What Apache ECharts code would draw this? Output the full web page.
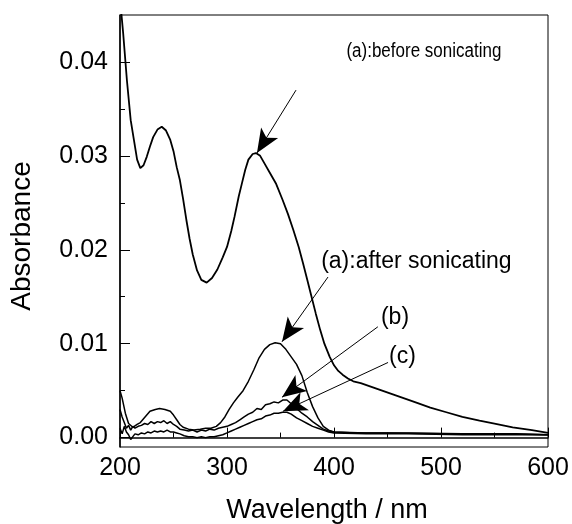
<!DOCTYPE html>
<html>
<head>
<meta charset="utf-8">
<script src="https://cdn.jsdelivr.net/npm/echarts@6/dist/echarts.min.js"></script>
<style>
  html, body {margin: 0; padding: 0; background: #fff;}
  #main {width: 572px; height: 524px;}
</style>
</head>
<body>
<div id="main"></div>
<script>
  // (a) before sonicating
  var beforeNm = [200, 201, 203, 206.5, 210, 213, 216, 219, 222, 225, 228, 231, 235, 239, 243, 247, 250, 253, 256, 259,
    262, 265, 268, 272, 276, 281, 286, 291, 296, 300, 304, 307, 311, 314, 317, 320, 324, 327, 331, 335,
    340, 346, 352, 357, 362, 367, 371, 375, 379, 383, 387, 391, 396, 400, 404, 408, 413, 418, 425, 435,
    445, 455, 465, 475, 490, 505, 520, 536, 550, 567, 585, 600];
  var beforeAbs = [0.0470, 0.0455, 0.0430, 0.0380, 0.0338, 0.0317, 0.0296, 0.0287, 0.0290, 0.0299,
    0.0310, 0.0320, 0.0328, 0.0331, 0.0327, 0.0317, 0.0305, 0.0288, 0.0274, 0.0254,
    0.0232, 0.0212, 0.0195, 0.0178, 0.0168, 0.0165, 0.0170, 0.0179, 0.0192, 0.0203,
    0.0220, 0.0235, 0.0257, 0.0271, 0.0285, 0.0296, 0.0302, 0.0303, 0.0300, 0.0292,
    0.0282, 0.0270, 0.0253, 0.0238, 0.0221, 0.0203, 0.0186, 0.0168, 0.0150, 0.0132,
    0.0115, 0.0100, 0.0086, 0.0077, 0.0071, 0.0067, 0.0063, 0.0060, 0.0058, 0.0054,
    0.0050, 0.0046, 0.0042, 0.0038, 0.0032, 0.0027, 0.0022, 0.0018, 0.0015, 0.0011, 0.0008, 0.0005];

  // (a) after sonicating
  var afterNm = [200, 202, 205, 208, 212, 216, 219, 222, 225, 228, 233, 237, 242, 247, 250, 253, 256, 259, 264, 269,
    275, 280, 285, 290, 294, 298, 302, 306, 310, 315, 320, 325, 330, 335, 340, 345, 350, 355, 360, 365,
    370, 375, 380, 385, 390, 395, 400, 420, 450, 500, 550, 600];
  var afterAbs = [0.0050, 0.0042, 0.0026, 0.0015, 0.0011, 0.0014, 0.0016, 0.0020, 0.0024, 0.0028,
    0.0030, 0.0031, 0.0030, 0.0028, 0.0024, 0.0019, 0.0014, 0.0011, 0.0009, 0.0008,
    0.0009, 0.0010, 0.0010, 0.0012, 0.0016, 0.0022, 0.0030, 0.0037, 0.0043, 0.0050,
    0.0060, 0.0072, 0.0085, 0.0094, 0.0099, 0.0101, 0.0100, 0.0094, 0.0086, 0.0078,
    0.0066, 0.0048, 0.0033, 0.0021, 0.0012, 0.0008, 0.0006, 0.0005, 0.0005, 0.0004, 0.0004, 0.0003];

  // (b) and (c) share the same wavelengths
  var sampleNm = [200, 202, 204, 206, 208, 210, 212, 214, 217, 220, 223, 226, 229, 232, 235, 238, 241, 244, 247, 250,
    253, 256, 260, 264, 268, 272, 276, 280, 284, 288, 292, 296, 300, 304, 308, 312, 316, 320, 324, 328,
    332, 336, 340, 344, 348, 352, 356, 360, 365, 370, 375, 380, 385, 390, 395, 400, 430, 470, 520, 570, 600];
  var bAbs = [0.0030, 0.0022, 0.0016, 0.0010, 0.0013, 0.0008, 0.0012, 0.0010, 0.0012, 0.0013,
    0.0015, 0.0014, 0.0017, 0.0015, 0.0017, 0.0016, 0.0018, 0.0015, 0.0017, 0.0014,
    0.0012, 0.0009, 0.0008, 0.0007, 0.0008, 0.0006, 0.0008, 0.0007, 0.0009, 0.0008,
    0.0010, 0.0011, 0.0012, 0.0014, 0.0016, 0.0019, 0.0022, 0.0025, 0.0027, 0.0031,
    0.0030, 0.0035, 0.0036, 0.0038, 0.0037, 0.0040, 0.0040, 0.0036, 0.0031, 0.0026,
    0.0022, 0.0017, 0.0013, 0.0009, 0.0007, 0.0006, 0.0005, 0.0005, 0.0004, 0.0004, 0.0003];
  var cAbs = [0.0010, 0.0004, 0.0012, 0.0006, 0.0003, -0.0002, 0.0001, 0.0004, 0.0003, 0.0005,
    0.0004, 0.0006, 0.0005, 0.0007, 0.0006, 0.0007, 0.0006, 0.0008, 0.0006, 0.0006,
    0.0005, 0.0004, 0.0002, 0.0001, 0.0001, 0.0000, 0.0001, 0.0000, 0.0001, 0.0001,
    0.0002, 0.0003, 0.0005, 0.0007, 0.0009, 0.0011, 0.0013, 0.0015, 0.0017, 0.0019,
    0.0020, 0.0023, 0.0024, 0.0026, 0.0026, 0.0027, 0.0027, 0.0025, 0.0021, 0.0018,
    0.0015, 0.0012, 0.0010, 0.0008, 0.0006, 0.0005, 0.0004, 0.0004, 0.0003, 0.0003, 0.0003];

  var yMajor = [0, 0.01, 0.02, 0.03, 0.04];
  var yMinor = [0.005, 0.015, 0.025, 0.035];

  // annotations: label text/position/size, arrow start -> arrow tip
  var noteText = ['(a):before sonicating', '(a):after sonicating', '(b)', '(c)'];
  var noteAt = [[484, 0.0411], [477, 0.0187], [457, 0.0128], [464, 0.0086]];
  var noteSize = [20, 23, 23, 23];
  var noteSquash = [0.85, 1, 1, 1];
  var arrowFrom = [[364.5, 0.0370], [394.4, 0.0171], [441, 0.0118], [450.5, 0.0080]];
  var arrowTo = [[328, 0.0303], [351.4, 0.0102], [351.4, 0.0043], [352.3, 0.0028]];

  function zip(xs, ys) {
    return xs.map(function (x, i) { return [x, ys[i]]; });
  }

  var font = 'Liberation Sans, Arial, sans-serif';
  var chart = echarts.init(document.getElementById('main'));

  var lineSeries = function (data, w) {
    return {
      type: 'line', data: data, showSymbol: false, symbol: 'none',
      lineStyle: {color: '#000', width: w}, clip: true, animation: false
    };
  };

  var s0 = lineSeries(zip(beforeNm, beforeAbs), 1.8);
  s0.markLine = {
    silent: true, animation: false,
    symbol: ['none', 'arrow'], symbolSize: [15, 24],
    lineStyle: {color: '#000', width: 1, type: 'solid'},
    label: {show: false},
    data: arrowFrom.map(function (p, i) {
      return [{coord: p}, {coord: arrowTo[i]}];
    })
  };

  chart.setOption({
    animation: false,
    grid: {
      left: 120, right: 24, top: 15, bottom: 77, outerBoundsMode: 'none',
      show: true, borderColor: '#000', borderWidth: 1
    },
    xAxis: {
      type: 'value', min: 200, max: 600, interval: 100,
      name: 'Wavelength / nm', nameLocation: 'middle', nameGap: 50,
      nameTextStyle: {color: '#000', fontSize: 27, fontFamily: font, padding: [0, 14, 0, 0]},
      axisLine: {lineStyle: {color: '#000', width: 1.5}},
      axisTick: {inside: true, length: 10, lineStyle: {color: '#000'}},
      minorTick: {show: true, splitNumber: 2, length: 5, lineStyle: {color: '#000'}},
      axisLabel: {color: '#000', fontSize: 25, fontFamily: font, margin: 9},
      splitLine: {show: false}
    },
    yAxis: [{
      type: 'value', min: -0.001, max: 0.045,
      name: 'Absorbance', nameLocation: 'middle', nameGap: 84,
      nameTextStyle: {color: '#000', fontSize: 28, fontFamily: font, padding: [0, 10, 0, 0]},
      axisLine: {show: true, lineStyle: {color: '#000', width: 1.5}},
      axisTick: {show: true, inside: true, length: 10, customValues: yMajor, lineStyle: {color: '#000'}},
      axisLabel: {
        color: '#000', fontSize: 25, fontFamily: font, margin: 12, customValues: yMajor,
        formatter: function (v) { return v.toFixed(2); }
      },
      splitLine: {show: false}
    }, {
      type: 'value', min: -0.001, max: 0.045, position: 'left',
      axisLine: {show: false},
      axisTick: {show: true, inside: true, length: 5, customValues: yMinor, lineStyle: {color: '#000'}},
      axisLabel: {show: false},
      splitLine: {show: false}
    }],
    series: [
      s0,
      lineSeries(zip(afterNm, afterAbs), 1.5),
      lineSeries(zip(sampleNm, bAbs), 1.5),
      lineSeries(zip(sampleNm, cAbs), 1.5)
    ]
  });

  // annotation texts, placed at data positions
  chart.setOption({
    graphic: noteText.map(function (t, i) {
      var p = chart.convertToPixel({gridIndex: 0}, noteAt[i]);
      return {
        type: 'text', x: p[0], y: p[1], scaleX: noteSquash[i], silent: true,
        style: {text: t, fill: '#000', fontSize: noteSize[i], fontFamily: font, align: 'center', verticalAlign: 'middle'}
      };
    })
  });
</script>
</body>
</html>
